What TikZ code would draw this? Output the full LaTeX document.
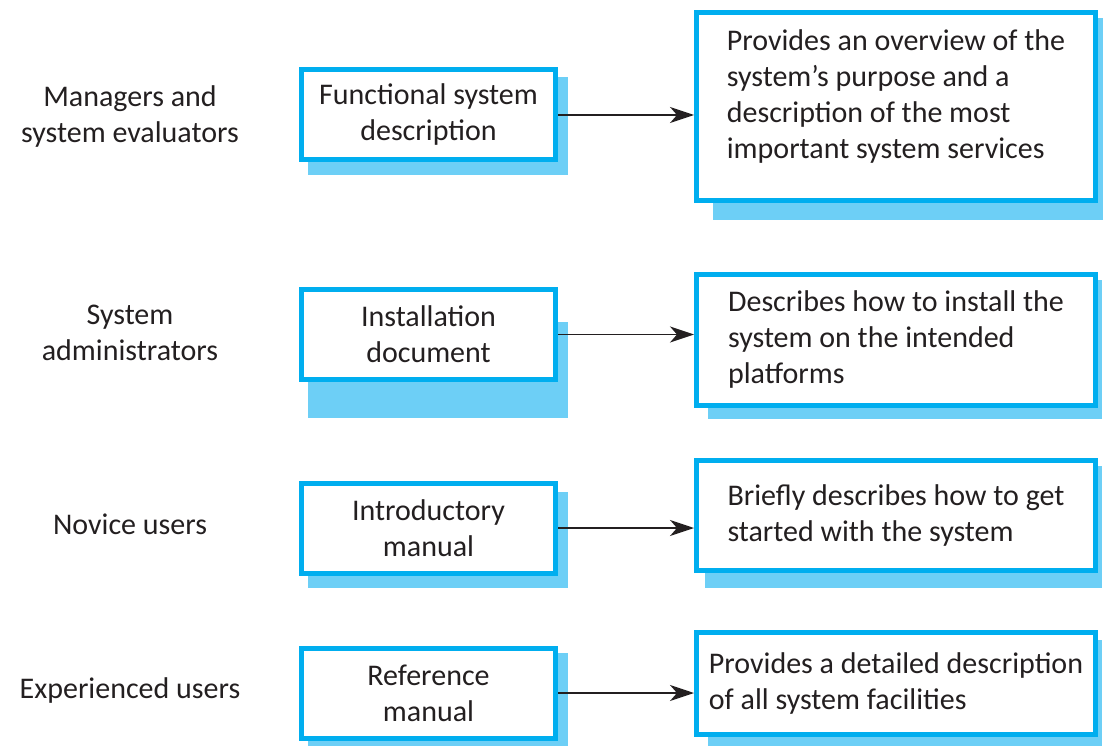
\documentclass[tikz,border=0pt]{standalone}
\usepackage{fontspec}
\setmainfont{Carlito}
\usetikzlibrary{arrows.meta}
\definecolor{boxblue}{HTML}{00AEEF}
\definecolor{shadowblue}{HTML}{6DCFF6}
\definecolor{inkgrey}{HTML}{231F20}

\begin{document}
\begin{tikzpicture}[x=1pt,y=-1pt,
  every node/.style={text=inkgrey,font=\fontsize{30}{36}\selectfont},
  reader/.style={align=center},
  docbox/.style={draw=boxblue,line width=5pt,fill=white,inner sep=0pt,
    minimum width=254pt,minimum height=90pt,align=center},
  infobox/.style={draw=boxblue,line width=5pt,fill=white,inner sep=0pt,
    minimum width=399pt,align=left},
  boxshadow/.style={fill=shadowblue},
  link/.style={draw=inkgrey,line width=1.5pt,-{Stealth[length=24pt,width=16pt,inset=7pt]}}]
\useasboundingbox (0,0) rectangle (1103,746);
% shadows behind the boxes
\fill[boxshadow] (308,77) rectangle (568,175);
\fill[boxshadow] (308,322) rectangle (568,418);
\fill[boxshadow] (308,492) rectangle (568,588);
\fill[boxshadow] (308,653) rectangle (568,746);
\fill[boxshadow] (713,18) rectangle (1103,220);
\fill[boxshadow] (708,280) rectangle (1102,419);
\fill[boxshadow] (705,466) rectangle (1102,588);
\fill[boxshadow] (708,640) rectangle (1102,746);
% readers
\node[reader] (managers) at (130,117) {Managers and\\system evaluators};
\node[reader] (admins) at (130,333) {System\\administrators};
\node[reader] (novice) at (130,524) {Novice users};
\node[reader] (experienced) at (130,690) {Experienced users};
% documents
\node[docbox] (functional) at (428.5,115) {Functional system\\description};
\node[docbox] (installation) at (428.5,334.5) {Installation\\document};
\node[docbox] (introductory) at (428.5,528) {Introductory\\manual};
\node[docbox] (reference) at (428.5,693) {Reference\\manual};
% what each document gives
\node[infobox,minimum height=188pt] (overview) at (896,106.5)
  {Provides an overview of the\\system’s purpose and a\\description of the most\\important system services\\[-12pt]};
\node[infobox,minimum height=131pt] (install) at (896,340)
  {Describes how to install the\\system on the intended\\platforms};
\node[infobox,minimum height=110pt] (started) at (896,515.5)
  {Briefly describes how to get\\started with the system};
\node[infobox,minimum height=102pt] (facilities) at (896,683.5)
  {Provides a detailed description\\of all system facilities};
\draw[link] (functional.east) -- (functional.east -| overview.west);
\draw[link] (installation.east) -- (installation.east -| install.west);
\draw[link] (introductory.east) -- (introductory.east -| started.west);
\draw[link] (reference.east) -- (reference.east -| facilities.west);
\end{tikzpicture}
\end{document}
